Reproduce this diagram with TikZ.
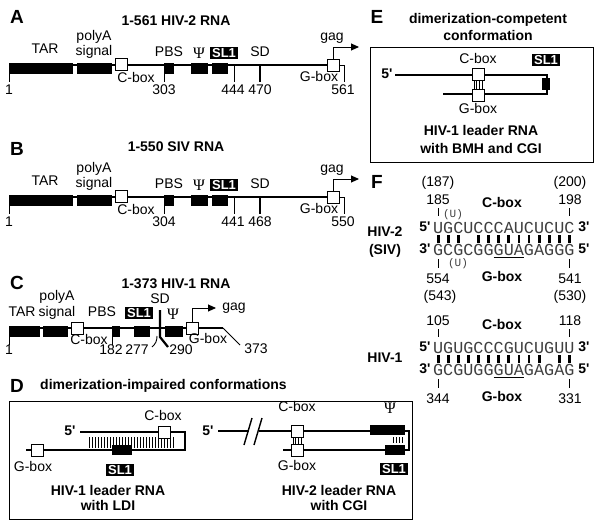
\documentclass[tikz,border=0pt]{standalone}
\usepackage{fontspec}
\setmainfont{Liberation Sans}
\newfontfamily\seqfont{Liberation Mono}
\newfontfamily\psifont{Liberation Serif}
\usetikzlibrary{arrows.meta}
\newcommand{\prm}{\textquotesingle}

\tikzset{
  rna/.style={line width=2.2pt},
  ntick/.style={line width=0.9pt},
  panelbox/.style={line width=1pt},
  hatch/.style={line width=0.6pt},
  pairbar/.style={line width=2.8pt},
  sbox/.style={draw, fill=white, line width=0.9pt, minimum size=12pt, inner sep=0pt},
  lbl/.style={font=\fontsize{14}{16}\selectfont, inner sep=0pt, text height=10pt, text depth=3pt},
  blbl/.style={font=\fontsize{14}{16}\selectfont\bfseries, inner sep=0pt, text height=10pt, text depth=3pt},
  panel/.style={font=\fontsize{19}{21}\selectfont\bfseries, inner sep=0pt},
  sltag/.style={fill=black, text=white, font=\fontsize{13}{14}\selectfont\bfseries, inner xsep=2pt, inner ysep=1.2pt},
  psi/.style={font=\fontsize{16}{18}\selectfont\psifont, inner sep=0pt},
  nt/.style={font=\fontsize{16.8}{18}\selectfont\seqfont, text=black!75, inner sep=0pt},
  ins/.style={font=\fontsize{11}{12}\selectfont\seqfont, text=black!75, inner sep=0pt},
}

\begin{document}
\begin{tikzpicture}[x=1pt, y=-1pt, >={Triangle[length=8pt,width=7pt]}]
  \useasboundingbox (0,0) rectangle (600,522);

  % A and B: HIV-2 and SIV leader
  \foreach \pl/\dy/\ty/\ttl/\np/\nq/\nr/\ne in
  {
      A/0/22/1-561 HIV-2 RNA/303/444/470/561,
      B/132/16/1-550 SIV RNA/304/441/468/550
  }
  {
    \begin{scope}[shift={(0,\dy)}]
      \node[panel] (lt\pl) at (17,17) {\pl};
      \node[blbl] (ttl\pl) at (176,\ty) {\ttl};
      \draw[rna] (9,65) -- (333,65);
      \foreach \a/\b in {9/73, 77/112, 164/174, 191/208, 212/228}
          \fill (\a,63) rectangle (\b,74);
      \foreach \x in {9,164,234}
          \draw[ntick] (\x,65) -- (\x,82);
      \draw[rna] (260,65) -- (260,82);
      \draw[ntick] (333,65) -- (344,65) -- (344,82);
      \node[sbox] (cbox\pl) at (121,64) {};
      \node[sbox] (gbox\pl) at (333,65) {};
      \coordinate (gag\pl) at (359,47);
      \draw[ntick, ->] (gbox\pl.north) |- (gag\pl);

      \node[lbl] (tar\pl) at (45,50) {TAR};
      \node[lbl] (pa\pl) at (94,37) {polyA};
      \node[lbl] (sg\pl) at (94,52) {signal};
      \node[lbl] (pbs\pl) at (169,53) {PBS};
      \node[psi] (psi\pl) at (199,53) {Ψ};
      \node[sltag] (sl\pl) at (224,53) {SL1};
      \node[lbl] (sd\pl) at (260,53) {SD};
      \node[lbl] (gg\pl) at (332,37) {gag};
      \node[lbl] (cb\pl) at (136,79) {C-box};
      \node[lbl] (gb\pl) at (319,78) {G-box};
      \node[lbl] (n1\pl) at (9,91) {1};
      \node[lbl] (np\pl) at (164,91) {\np};
      \node[lbl] (nq\pl) at (233,91) {\nq};
      \node[lbl] (nr\pl) at (260,91) {\nr};
      \node[lbl] (ne\pl) at (343,91) {\ne};
    \end{scope}
  }

  % C: HIV-1 leader
  \node[panel] (ltC) at (17,283) {C};
  \node[blbl] (ttlC) at (176,285) {1-373 HIV-1 RNA};
  \draw[rna] (9,328) -- (223,328);
  \draw[ntick] (223,328) -- (240,345);
  \foreach \a/\b in {9/40, 43/68, 112/120, 134/150, 165/183}
      \fill (\a,326) rectangle (\b,337);
  \foreach \x in {9,112}
      \draw[ntick] (\x,328) -- (\x,345);
  \draw[rna] (160,310) -- (160,337) -- (168,347);
  \draw[ntick] (152,347) to[bend right=25] (157,336);
  \node[sbox] (cboxC) at (77,328) {};
  \node[sbox] (gboxC) at (192,328) {};
  \coordinate (gagC) at (216,308);
  \draw[ntick, ->] (gboxC.north) |- (gagC);
  \node[lbl] (tarC) at (22,313) {TAR};
  \node[lbl] (paC) at (57,297) {polyA};
  \node[lbl] (sgC) at (57,313) {signal};
  \node[lbl] (pbsC) at (102,313) {PBS};
  \node[sltag] (slC) at (139,313) {SL1};
  \node[lbl] (sdC) at (160,300) {SD};
  \node[psi] (psiC) at (173,314) {Ψ};
  \node[lbl] (ggC) at (234,307) {gag};
  \node[lbl] (cbC) at (89,341) {C-box};
  \node[lbl] (gbC) at (208,340) {G-box};
  \node[lbl] (n1C) at (9,351) {1};
  \node[lbl] (n182) at (111,351) {182};
  \node[lbl] (n277) at (137,351) {277};
  \node[lbl] (n290) at (181,351) {290};
  \node[lbl] (n373) at (256,350) {373};

  % D: impaired conformations
  \node[panel] (ltD) at (17,386) {D};
  \node[blbl, anchor=west] (ttlD) at (40,386) {dimerization-impaired conformations};
  \draw[panelbox] (9,401) rectangle (412,519);
  % LDI
  \node[blbl] (d5a) at (70,432) {5\prm};
  \foreach \x in {89,92,...,174}
      \draw[hatch] (\x,437) -- (\x,448);
  \draw[rna] (80,432) -- (185,432) -- (185,450) -- (26,450);
  \fill (112,445) rectangle (132,455);
  \node[sbox] (cboxD) at (164,432) {};
  \node[sbox] (gboxD) at (37,450) {};
  \node[lbl] (cbD) at (163,417) {C-box};
  \node[lbl] (gbD) at (33,468) {G-box};
  \node[sltag] (slD) at (120,470) {SL1};
  \node[blbl] (ldi1) at (108,492) {HIV-1 leader RNA};
  \node[blbl] (ldi2) at (108,507) {with LDI};
  % HIV-2 CGI
  \node[blbl] (d5b) at (208,432) {5\prm};
  \draw[rna] (218,431) -- (249,431);
  \draw[rna] (259,431) -- (409,431) -- (409,450) -- (283,450);
  \draw[line width=1.4pt] (244,445) -- (252,418);
  \draw[line width=1.4pt] (254,445) -- (262,418);
  \fill (370,425) rectangle (405,435);
  \fill (385,445) rectangle (405,455);
  \foreach \x in {393,396,...,403}
      \draw[hatch] (\x,437) -- (\x,443);
  \foreach \x in {-4,-1.5,1.5,4}
      \draw[hatch] (297+\x,436) -- (297+\x,445);
  \node[sbox] (cboxD2) at (297,431) {};
  \node[sbox] (gboxD2) at (297,450) {};
  \node[lbl] (cbD2) at (297,408) {C-box};
  \node[psi] (psiD2) at (390,408) {Ψ};
  \node[lbl] (gbD2) at (297,467) {G-box};
  \node[sltag] (slD2) at (394,469) {SL1};
  \node[blbl] (cgi1) at (339,492) {HIV-2 leader RNA};
  \node[blbl] (cgi2) at (339,507) {with CGI};

  % E: competent conformation
  \node[panel] (ltE) at (377,17) {E};
  \node[blbl] (ttlE1) at (488,20) {dimerization-competent};
  \node[blbl] (ttlE2) at (488,37) {conformation};
  \draw[panelbox] (370,47) rectangle (593,162);
  \node[blbl] (e5) at (387,75) {5\prm};
  \draw[rna] (395,75) -- (547,75) -- (547,94) -- (443,94);
  \fill (542,78) rectangle (550,90);
  \foreach \x in {-4,-1.5,1.5,4}
      \draw[hatch] (478+\x,79) -- (478+\x,90);
  \node[sbox] (cboxE) at (478,74) {};
  \node[sbox] (gboxE) at (478,95) {};
  \node[lbl] (cbE) at (478,60) {C-box};
  \node[sltag] (slE) at (546,60) {SL1};
  \node[lbl] (gbE) at (478,110) {G-box};
  \node[blbl] (bmh1) at (481,132) {HIV-1 leader RNA};
  \node[blbl] (bmh2) at (481,150) {with BMH and CGI};

  % F: C-box / G-box pairing
  \node[panel] (ltF) at (377,182) {F};
  \node[blbl] (hiv2) at (385,233) {HIV-2};
  \node[blbl] (siv) at (385,251) {(SIV)};
  \node[blbl] (hiv1) at (385,359) {HIV-1};

  % HIV-2 (SIV) duplex
  \node[lbl] (m187) at (438,183) {(187)};
  \node[lbl] (m200) at (570,183) {(200)};
  \node[lbl] (m185) at (438,201) {185};
  \node[lbl] (m198) at (570,201) {198};
  \node[blbl] (cbF1) at (502,204) {C-box};
  \draw[ntick] (438,208) -- (438,216);
  \draw[ntick] (569,208) -- (569,216);
  \node[ins] (insa) at (453,215) {(U)};
  \node[blbl] (p5a) at (425,228) {5\prm};
  \node[blbl] (p3a) at (584,228) {3\prm};
  \node[blbl] (p3b) at (425,250) {3\prm};
  \node[blbl] (p5b) at (584,250) {5\prm};
  \foreach \c [count=\i] in {U,G,C,U,C,C,C,A,U,C,U,C,U,C}
      \node[nt] (ta\i) at ({428+10.1*\i},228) {\c};
  \foreach \c [count=\i] in {G,C,G,C,G,G,G,U,A,G,A,G,G,G}
      \node[nt] (ba\i) at ({428+10.1*\i},250) {\c};
  \foreach \i in {1,2,3,5,6,...,14}
      \draw[pairbar] ({428+10.1*\i},235) -- ++(0,8);
  \draw[ntick] (493.6,257.5) -- (524,257.5);
  \draw[ntick] (438,259) -- (438,268);
  \draw[ntick] (569,259) -- (569,268);
  \node[ins] (insb) at (458,264) {(U)};
  \node[lbl] (m554) at (438,280) {554};
  \node[blbl] (gbF1) at (502,278) {G-box};
  \node[lbl] (m541) at (570,280) {541};
  \node[lbl] (m543) at (440,297) {(543)};
  \node[lbl] (m530) at (570,297) {(530)};

  % HIV-1 duplex
  \node[lbl] (m105) at (438,322) {105};
  \node[lbl] (m118) at (570,322) {118};
  \node[blbl] (cbF2) at (502,326) {C-box};
  \draw[ntick] (438,329) -- (438,337);
  \draw[ntick] (569,329) -- (569,337);
  \node[blbl] (p5c) at (425,348) {5\prm};
  \node[blbl] (p3c) at (584,348) {3\prm};
  \node[blbl] (p3d) at (425,370) {3\prm};
  \node[blbl] (p5d) at (584,370) {5\prm};
  \foreach \c [count=\i] in {U,G,U,G,C,C,C,G,U,C,U,G,U,U}
      \node[nt] (tb\i) at ({428+10.1*\i},348) {\c};
  \foreach \c [count=\i] in {G,C,G,U,G,G,G,U,A,G,A,G,A,G}
      \node[nt] (bb\i) at ({428+10.1*\i},370) {\c};
  \foreach \i in {1,2,...,11,13,14}
      \draw[pairbar] ({428+10.1*\i},355) -- ++(0,8);
  \draw[ntick] (493.6,377.5) -- (524,377.5);
  \draw[ntick] (438,379) -- (438,388);
  \draw[ntick] (569,379) -- (569,388);
  \node[lbl] (m344) at (438,400) {344};
  \node[blbl] (gbF2) at (502,398) {G-box};
  \node[lbl] (m331) at (570,400) {331};
\end{tikzpicture}
\end{document}
